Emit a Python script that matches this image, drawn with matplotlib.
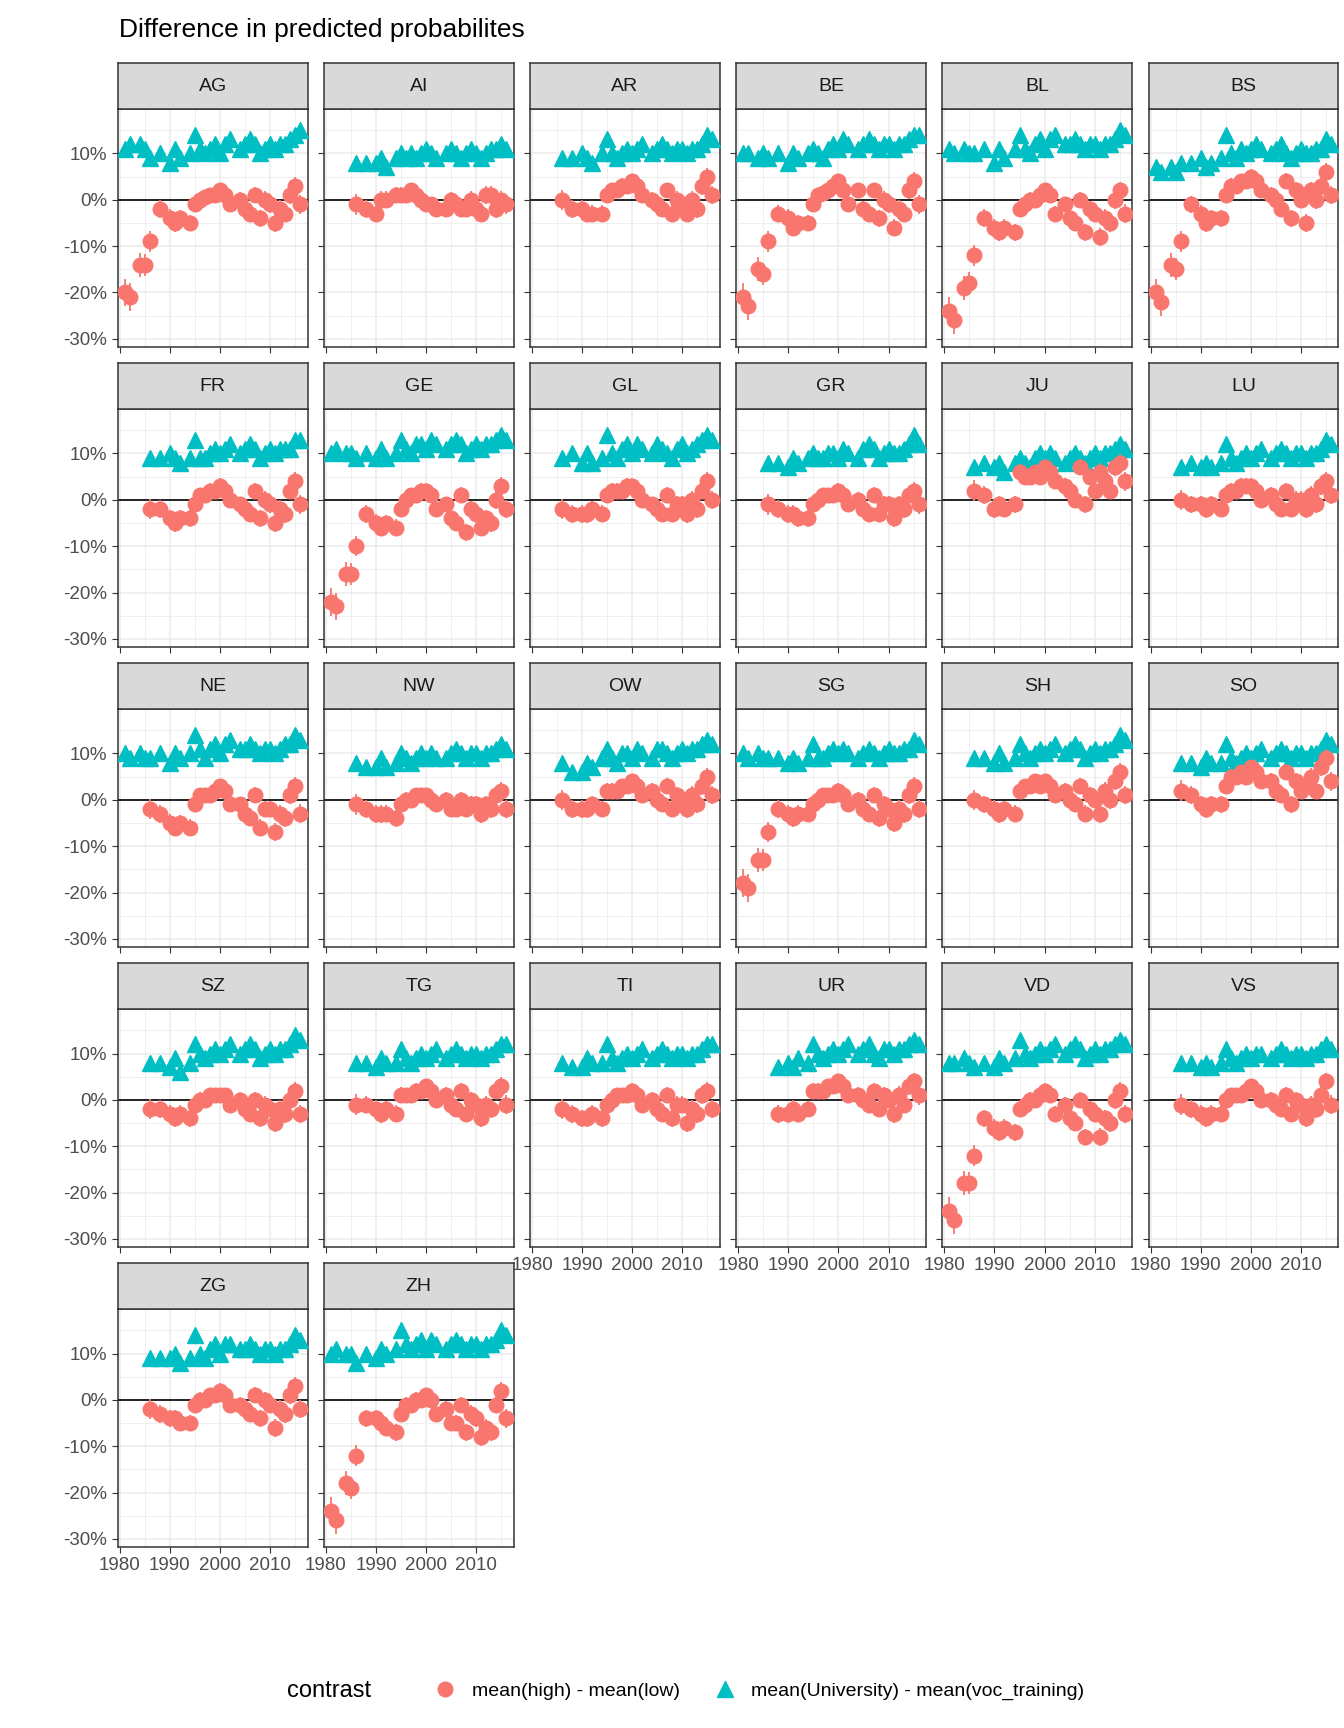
import numpy as np
import matplotlib.pyplot as plt
from matplotlib.lines import Line2D

n = np.nan
years = [1981, 1982, 1984, 1985, 1986, 1988, 1990, 1991, 1992, 1994, 1995, 1996, 1997, 1998, 1999, 2000,
         2001, 2002, 2004, 2005, 2006, 2007, 2008, 2009, 2010, 2011, 2012, 2013, 2014, 2015, 2016]

cantons = ["AG", "AI", "AR", "BE", "BL", "BS", "FR", "GE", "GL", "GR", "JU", "LU", "NE",
           "NW", "OW", "SG", "SH", "SO", "SZ", "TG", "TI", "UR", "VD", "VS", "ZG", "ZH"]

# mean(high) - mean(low), in %
red = {
    "AG": [-20, -21, -14, -14, -9, -2, -4, -5, -4, -5, -1, 0, 0.5, 1, 1, 2, 1, -1, 0, -2, -3, 1, -4, 0, -1, -5, -2, -3, 1, 3, -1],
    "AI": [n, n, n, n, -1, -2, -3, 0, 0, 1, 1, 1, 2, 1, 0, -1, -1, -2, -2, 0, -1, -2, -2, 0, -2, -3, 1, 1, -2, 0, -1],
    "AR": [n, n, n, n, 0, -2, -2, -3, -3, -3, 1, 2, 2, 3, 3, 4, 3, 1, 0, -1, -2, 2, -3, 0, -1, -3, 0, -2, 3, 5, 1],
    "BE": [-21, -23, -15, -16, -9, -3, -4, -6, -5, -5, -1, 1, 1.5, 2, 3, 4, 2, -1, 2, -2, -3, 2, -4, 0, -1, -6, -2, -3, 2, 4, -1],
    "BL": [-24, -26, -19, -18, -12, -4, -6, -7, -6, -7, -2, -1, 0, 0, 1, 2, 1, -3, -1, -4, -5, 0, -7, -2, -3, -8, -4, -5, 0, 2, -3],
    "BS": [-20, -22, -14, -15, -9, -1, -3, -5, -4, -4, 1, 3, 3, 4, 4, 5, 4, 2, 1, 0, -2, 4, -4, 2, 0, -5, 2, 0, 3, 6, 1],
    "FR": [n, n, n, n, -2, -2, -4, -5, -4, -4, -1, 1, 1, 2, 2, 3, 2, 0, -1, -2, -3, 2, -4, 0, -1, -5, -2, -3, 2, 4, -1],
    "GE": [-22, -23, -16, -16, -10, -3, -5, -6, -5, -6, -2, 0, 1, 1, 2, 2, 1, -2, -1, -4, -5, 1, -7, -2, -3, -6, -4, -5, 0, 3, -2],
    "GL": [n, n, n, n, -2, -3, -3, -3, -2, -3, 1, 2, 2, 2, 3, 3, 2, 0, -1, -2, -3, 1, -3, -1, -1, -3, 0, -2, 2, 4, 0],
    "GR": [n, n, n, n, -1, -2, -3, -3, -4, -4, -1, 0, 1, 1, 1, 2, 1, -1, 0, -2, -3, 1, -3, -1, -1, -4, -1, -2, 1, 2, -1],
    "JU": [n, n, n, n, 2, 1, -2, -1, -2, -1, 6, 5, 5, 6, 5, 7, 6, 4, 3, 2, 0, 7, -1, 5, 2, 6, 4, 2, 7, 8, 4],
    "LU": [n, n, n, n, 0, -1, -1, -2, -1, -2, 1, 2, 2, 3, 3, 3, 2, 0, 1, -1, -2, 2, -2, 0, 0, -2, 1, -1, 3, 4, 1],
    "NE": [n, n, n, n, -2, -3, -5, -6, -5, -6, -1, 1, 1, 1, 2, 3, 2, -1, -1, -3, -4, 1, -6, -2, -2, -7, -3, -4, 1, 3, -3],
    "NW": [n, n, n, n, -1, -2, -3, -3, -3, -4, -1, 0, 0, 1, 1, 1, 0, -1, 0, -2, -2, 0, -2, -1, -1, -3, -1, -2, 1, 2, -2],
    "OW": [n, n, n, n, 0, -2, -2, -2, -1, -2, 2, 2, 2, 3, 3, 4, 3, 1, 2, 0, -1, 3, -2, 1, 0, -2, 1, -1, 3, 5, 1],
    "SG": [-18, -19, -13, -13, -7, -2, -3, -4, -3, -3, -1, 0, 1, 1, 1, 2, 1, -1, 0, -2, -3, 1, -4, -1, -2, -5, -2, -3, 1, 3, -2],
    "SH": [n, n, n, n, 0, -1, -2, -3, -2, -3, 2, 3, 3, 4, 3, 4, 3, 1, 2, 0, -1, 3, -3, 1, 0, -3, 2, 0, 4, 6, 1],
    "SO": [n, n, n, n, 2, 1, -1, -2, -1, -1, 3, 5, 5, 6, 5, 7, 6, 4, 4, 2, 1, 6, -1, 4, 2, 3, 5, 2, 7, 9, 4],
    "SZ": [n, n, n, n, -2, -2, -3, -4, -3, -4, -1, 0, 0, 1, 1, 1, 1, -1, 0, -2, -3, 0, -4, -1, -2, -5, -2, -3, 0, 2, -3],
    "TG": [n, n, n, n, -1, -1, -2, -3, -2, -3, 1, 1, 1, 2, 2, 3, 2, 0, 1, -1, -2, 2, -3, 0, -1, -4, -1, -2, 2, 3, -1],
    "TI": [n, n, n, n, -2, -3, -4, -4, -3, -4, -1, 0, 1, 1, 1, 2, 1, -1, 0, -2, -3, 1, -4, -1, -1, -5, -2, -3, 1, 2, -2],
    "UR": [n, n, n, n, n, -3, -3, -2, -3, -2, 2, 2, 2, 3, 3, 4, 3, 1, 1, 0, -1, 2, -2, 1, 0, -3, 1, -1, 3, 4, 1],
    "VD": [-24, -26, -18, -18, -12, -4, -6, -7, -6, -7, -2, -1, 0, 0, 1, 2, 1, -3, -1, -4, -5, 0, -8, -2, -3, -8, -4, -5, 0, 2, -3],
    "VS": [n, n, n, n, -1, -2, -3, -4, -3, -3, 0, 1, 1, 1, 2, 3, 2, 0, 0, -1, -2, 1, -3, 0, -1, -4, -1, -2, 1, 4, -1],
    "ZG": [n, n, n, n, -2, -3, -4, -4, -5, -5, -1, 0, 0, 1, 1, 2, 1, -1, -1, -2, -3, 1, -4, 0, -1, -6, -2, -3, 1, 3, -2],
    "ZH": [-24, -26, -18, -19, -12, -4, -4, -5, -6, -7, -3, -1, -1, 0, 0, 1, 0, -3, -2, -5, -5, -1, -7, -3, -4, -8, -6, -7, -1, 2, -4],
}

# mean(University) - mean(voc_training), in %
blue = {
    "AG": [11, 12, 12, 11, 9, 10, 8, 11, 9, 10, 14, 11, 10, 11, 12, 10, 12, 13, 11, 12, 13, 12, 10, 11, 12, 11, 12, 12, 13, 14, 15],
    "AI": [n, n, n, n, 8, 8, 8, 9, 7, 9, 10, 9, 10, 9, 10, 11, 10, 9, 10, 11, 10, 9, 10, 11, 10, 9, 10, 11, 11, 12, 11],
    "AR": [n, n, n, n, 9, 9, 10, 9, 8, 10, 13, 10, 9, 10, 11, 10, 11, 12, 10, 11, 12, 11, 10, 11, 11, 10, 11, 11, 12, 14, 13],
    "BE": [10, 10, 9, 10, 9, 10, 8, 10, 9, 10, 11, 10, 9, 11, 12, 11, 13, 12, 11, 12, 13, 12, 11, 12, 12, 11, 12, 12, 13, 14, 14],
    "BL": [11, 10, 11, 10, 10, 11, 8, 11, 9, 11, 14, 11, 10, 12, 13, 11, 13, 14, 12, 12, 13, 12, 11, 12, 12, 11, 12, 12, 13, 15, 14],
    "BS": [7, 6, 7, 6, 8, 8, 9, 7, 8, 9, 14, 10, 9, 11, 10, 11, 12, 11, 10, 11, 12, 10, 9, 10, 11, 10, 10, 11, 11, 13, 12],
    "FR": [n, n, n, n, 9, 9, 10, 9, 8, 9, 13, 9, 9, 10, 11, 10, 11, 12, 10, 11, 12, 11, 9, 10, 11, 10, 11, 11, 11, 13, 13],
    "GE": [10, 11, 10, 10, 9, 10, 9, 11, 9, 10, 13, 11, 10, 12, 12, 11, 13, 12, 11, 12, 13, 12, 10, 11, 12, 11, 12, 12, 13, 14, 13],
    "GL": [n, n, n, n, 9, 10, 8, 10, 8, 9, 14, 10, 9, 11, 12, 10, 12, 11, 10, 12, 11, 10, 9, 11, 12, 10, 11, 12, 13, 14, 13],
    "GR": [n, n, n, n, 8, 8, 7, 9, 8, 9, 10, 9, 9, 10, 10, 9, 11, 10, 9, 11, 12, 11, 9, 10, 11, 10, 10, 11, 12, 14, 12],
    "JU": [n, n, n, n, 7, 8, 7, 8, 6, 8, 9, 8, 7, 9, 10, 9, 10, 9, 8, 9, 10, 9, 8, 9, 10, 9, 10, 10, 11, 12, 11],
    "LU": [n, n, n, n, 7, 8, 7, 8, 7, 8, 12, 9, 8, 9, 10, 9, 10, 11, 9, 10, 11, 10, 9, 10, 10, 9, 10, 10, 11, 13, 12],
    "NE": [10, 9, 10, 9, 9, 10, 8, 10, 9, 10, 14, 11, 9, 11, 12, 10, 12, 13, 11, 11, 12, 11, 10, 11, 11, 10, 11, 12, 12, 14, 13],
    "NW": [n, n, n, n, 8, 7, 7, 9, 7, 8, 10, 9, 8, 9, 10, 9, 10, 9, 9, 10, 11, 10, 9, 10, 10, 9, 10, 10, 11, 12, 11],
    "OW": [n, n, n, n, 8, 6, 6, 8, 7, 9, 11, 9, 8, 10, 10, 9, 11, 10, 9, 11, 11, 10, 9, 10, 11, 10, 11, 11, 12, 13, 12],
    "SG": [10, 9, 10, 9, 9, 9, 8, 9, 8, 9, 12, 9, 9, 10, 11, 10, 11, 10, 9, 10, 11, 10, 9, 10, 11, 10, 10, 11, 11, 13, 12],
    "SH": [n, n, n, n, 9, 9, 8, 10, 8, 9, 12, 10, 9, 10, 11, 10, 11, 12, 10, 11, 12, 11, 9, 10, 11, 10, 11, 11, 12, 14, 13],
    "SO": [n, n, n, n, 8, 8, 7, 9, 8, 8, 12, 9, 8, 9, 10, 9, 10, 11, 9, 10, 11, 10, 9, 10, 10, 9, 10, 10, 11, 13, 12],
    "SZ": [n, n, n, n, 8, 8, 7, 9, 6, 8, 12, 10, 9, 10, 11, 10, 11, 12, 10, 11, 12, 11, 9, 10, 11, 10, 11, 11, 12, 14, 13],
    "TG": [n, n, n, n, 8, 8, 7, 9, 8, 8, 11, 9, 8, 9, 10, 9, 10, 11, 9, 10, 11, 10, 9, 10, 10, 9, 10, 10, 11, 12, 12],
    "TI": [n, n, n, n, 8, 7, 7, 9, 8, 8, 12, 9, 8, 9, 10, 9, 10, 11, 9, 10, 11, 10, 9, 10, 10, 9, 10, 10, 11, 12, 12],
    "UR": [n, n, n, n, n, 7, 8, 7, 9, 8, 12, 10, 9, 10, 11, 10, 11, 12, 10, 11, 12, 10, 9, 11, 11, 10, 11, 11, 12, 13, 12],
    "VD": [8, 8, 9, 8, 7, 8, 7, 9, 8, 9, 13, 10, 9, 10, 11, 10, 11, 12, 10, 11, 12, 11, 9, 10, 11, 10, 11, 11, 12, 13, 12],
    "VS": [n, n, n, n, 8, 8, 7, 8, 7, 8, 11, 9, 8, 9, 10, 9, 10, 10, 9, 10, 11, 10, 9, 10, 10, 9, 10, 10, 11, 12, 11],
    "ZG": [n, n, n, n, 9, 9, 9, 10, 8, 9, 14, 10, 9, 11, 12, 10, 12, 12, 11, 11, 12, 11, 10, 11, 11, 10, 11, 11, 12, 14, 13],
    "ZH": [10, 11, 10, 10, 8, 10, 9, 11, 10, 11, 15, 12, 11, 12, 13, 11, 13, 12, 11, 12, 13, 12, 11, 12, 12, 11, 12, 12, 13, 15, 14],
}

err_red = [3.0, 3.0, 2.6, 2.4, 2.2, 1.9, 1.9, 1.9, 1.8, 1.8, 1.7, 1.6, 1.6, 1.6, 1.6, 1.6, 1.6, 1.7, 1.7,
           1.7, 1.7, 1.7, 1.8, 1.8, 1.8, 1.9, 1.9, 1.9, 1.9, 1.9, 2.0]
err_blue = 0.8

RED = "#F8766D"
BLUE = "#00BFC4"

W, H = 1210, 1555
plt.rcParams["font.family"] = ["Liberation Sans", "DejaVu Sans"]
fig = plt.figure(figsize=(13.44, 17.28), dpi=100)

ncol = 6
for i, c in enumerate(cantons):
    r, k = divmod(i, ncol)
    left = (106 + 185.6 * k) / W
    bottom = 1 - (312 + 270 * r) / H
    ax = fig.add_axes([left, bottom, 171 / W, 214 / H])
    st = fig.add_axes([left, bottom + 214 / H, 171 / W, 41 / H])
    st.set_facecolor("#D9D9D9")
    st.set_xticks([]); st.set_yticks([])
    for s in st.spines.values():
        s.set_color("#333333"); s.set_linewidth(1.1)
    st.text(0.5, 0.5, c, ha="center", va="center", fontsize=14, color="#1A1A1A", transform=st.transAxes)

    ax.set_xlim(1979.6, 2017.5)
    ax.set_ylim(-31.7, 19.6)
    ax.set_xticks([1980, 1990, 2000, 2010])
    ax.set_xticks([1985, 1995, 2005, 2015], minor=True)
    ax.set_yticks([-30, -20, -10, 0, 10])
    ax.set_yticks([-25, -15, -5, 5, 15], minor=True)
    ax.grid(True, which="major", color="#EBEBEB", lw=1.1)
    ax.grid(True, which="minor", color="#EBEBEB", lw=0.55)
    ax.set_axisbelow(True)
    for s in ax.spines.values():
        s.set_color("#333333"); s.set_linewidth(1.1)
    ax.axhline(0, color="black", lw=1.2, zorder=1)

    ax.errorbar(years, blue[c], yerr=err_blue, fmt="^", color=BLUE, ms=11, elinewidth=1.3, capsize=0, zorder=3)
    ax.errorbar(years, red[c], yerr=err_red, fmt="o", color=RED, ms=10.5, elinewidth=1.3, capsize=0, zorder=4)

    ax.tick_params(which="both", colors="#333333", labelsize=13.5, length=4)
    ax.tick_params(which="minor", length=0)
    ax.tick_params(axis="both", labelcolor="#4D4D4D")
    if k == 0:
        ax.set_yticklabels(["-30%", "-20%", "-10%", "0%", "10%"])
    else:
        ax.set_yticklabels([])
    last_row = 4 if k < 2 else 3
    if r != last_row:
        ax.set_xticklabels([])

fig.text(107 / W, 1 - 27 / H, "Difference in predicted probabilites", fontsize=19, va="center", ha="left")

handles = [Line2D([], [], color=RED, marker="o", ms=10.5, lw=0),
           Line2D([], [], color=BLUE, marker="^", ms=11, lw=0)]
leg = fig.legend(handles, ["mean(high) - mean(low)", "mean(University) - mean(voc_training)"],
                 loc="center left", bbox_to_anchor=(372 / W, 1 - 1522 / H), ncol=2, frameon=False,
                 fontsize=14, handletextpad=0.6, columnspacing=1.6, handlelength=1.5)
fig.text(258 / W, 1 - 1522 / H, "contrast", fontsize=17, va="center", ha="left")

fig.savefig("out.png", dpi=100)
